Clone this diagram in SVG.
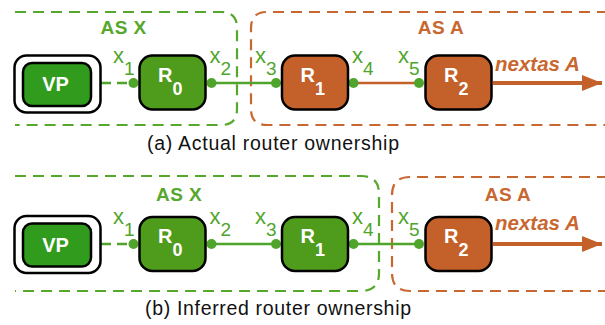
<svg xmlns="http://www.w3.org/2000/svg" width="605" height="325" viewBox="0 0 605 325">
<style>
  .asx { fill: none; stroke: #56a82c; stroke-width: 2.2; stroke-dasharray: 11 7; }
  .asa { fill: none; stroke: #c8672f; stroke-width: 2.2; stroke-dasharray: 11 7; }
  .node { stroke: #000; stroke-width: 2.5; }
  .gfill { fill: #4f9b1c; }
  .vpfill { fill: #319b1d; }
  .ofill { fill: #c4602a; }
  .ntext { font-family: "Liberation Sans", Arial, sans-serif; font-weight: bold; fill: #fff; font-size: 20px; }
  .sub { font-size: 18px; }
  .lbl { font-family: "Liberation Sans", Arial, sans-serif; fill: #4fa52b; font-size: 22px; }
  .lsub { font-size: 19px; }
  .asxl { font-family: "Liberation Sans", Arial, sans-serif; font-weight: bold; fill: #56a82c; font-size: 19px; letter-spacing: 0.4px; text-anchor: middle; }
  .asal { font-family: "Liberation Sans", Arial, sans-serif; font-weight: bold; fill: #c8672f; font-size: 19px; letter-spacing: 0.4px; text-anchor: middle; }
  .next { font-family: "Liberation Sans", Arial, sans-serif; font-weight: bold; font-style: italic; fill: #c8672f; font-size: 20.5px; }
  .cap { font-family: "Liberation Sans", Arial, sans-serif; fill: #111; font-size: 19.5px; }
  .gline { stroke: #4fa52b; stroke-width: 2.5; fill: none; }
  .oline { stroke: #c4602a; stroke-width: 2.5; fill: none; }
  .dot { fill: #4fa52b; }
  .arrow { stroke: #c4602a; stroke-width: 4; fill: none; }
</style>
<defs>
  <marker id="ah" markerUnits="userSpaceOnUse" markerWidth="22" markerHeight="16" refX="20" refY="8" orient="auto">
    <path d="M0,0 L20,8 L0,16 Z" fill="#c4602a"/>
  </marker>
</defs>

<!-- Panel (a) -->
<g id="as-x-a">
  <path class="asx" d="M15,12 H221 Q237,12 237,28 V109 Q237,125 221,125 H15"/>
  <text class="asxl" x="123.5" y="34">AS X</text>
</g>
<g id="as-a-a">
  <path class="asa" d="M608,12 H267 Q251,12 251,28 V109 Q251,125 267,125 H608"/>
  <text class="asal" x="441" y="34">AS A</text>
</g>

<g id="connectors-a">
  <line class="gline" x1="101" y1="83" x2="133" y2="83" stroke-dasharray="10 6"/>
  <line class="gline" x1="212" y1="83" x2="276" y2="83"/>
  <line class="oline" x1="354" y1="83" x2="419" y2="83"/>
  <line class="arrow" x1="493" y1="83" x2="602" y2="83" marker-end="url(#ah)"/>
  <circle class="dot" cx="133.5" cy="83" r="5"/>
  <circle class="dot" cx="211.5" cy="83" r="5"/>
  <circle class="dot" cx="276" cy="83" r="5"/>
  <circle class="dot" cx="353.5" cy="83" r="5"/>
  <circle class="dot" cx="419" cy="83" r="5"/>
</g>

<g id="vp-a">
  <rect class="node" x="14.5" y="55.5" width="86" height="57" rx="12" fill="#fff"/>
  <rect class="node vpfill" x="23" y="63" width="68" height="43" rx="9"/>
  <text class="ntext" x="55.5" y="91" text-anchor="middle">VP</text>
</g>
<g id="r0-a">
  <rect class="node gfill" x="139.5" y="55.5" width="66" height="54" rx="13"/>
  <text class="ntext" x="158" y="82">R<tspan class="sub" dy="13">0</tspan></text>
</g>
<g id="r1-a">
  <rect class="node ofill" x="282" y="55.5" width="66" height="54" rx="13"/>
  <text class="ntext" x="300.5" y="82">R<tspan class="sub" dy="13">1</tspan></text>
</g>
<g id="r2-a">
  <rect class="node ofill" x="425.5" y="55.5" width="66" height="54" rx="13"/>
  <text class="ntext" x="444" y="82">R<tspan class="sub" dy="13">2</tspan></text>
</g>

<g id="labels-a">
  <text class="lbl" x="113" y="63">x<tspan class="lsub" dy="12">1</tspan></text>
  <text class="lbl" x="209.5" y="63">x<tspan class="lsub" dy="12">2</tspan></text>
  <text class="lbl" x="255" y="63">x<tspan class="lsub" dy="12">3</tspan></text>
  <text class="lbl" x="352" y="63">x<tspan class="lsub" dy="12">4</tspan></text>
  <text class="lbl" x="398" y="63">x<tspan class="lsub" dy="12">5</tspan></text>
  <text class="next" x="495" y="70.5">nextas A</text>
  <text class="cap" x="147" y="150" textLength="252" lengthAdjust="spacing">(a) Actual router ownership</text>
</g>

<!-- Panel (b) -->
<g id="as-x-b">
  <path class="asx" d="M15,176 H361 Q379,176 379,194 V273 Q379,291 361,291 H15"/>
  <text class="asxl" x="179" y="201">AS X</text>
</g>
<g id="as-a-b">
  <path class="asa" d="M608,177 H410 Q392,177 392,195 V273 Q392,291 410,291 H608"/>
  <text class="asal" x="508" y="201">AS A</text>
</g>

<g id="connectors-b">
  <line class="gline" x1="101" y1="244" x2="133" y2="244" stroke-dasharray="10 6"/>
  <line class="gline" x1="212" y1="244" x2="276" y2="244"/>
  <line class="gline" x1="354" y1="244" x2="419" y2="244"/>
  <line class="arrow" x1="493" y1="244" x2="602" y2="244" marker-end="url(#ah)"/>
  <circle class="dot" cx="133.5" cy="244" r="5"/>
  <circle class="dot" cx="211.5" cy="244" r="5"/>
  <circle class="dot" cx="276" cy="244" r="5"/>
  <circle class="dot" cx="353.5" cy="244" r="5"/>
  <circle class="dot" cx="419" cy="244" r="5"/>
</g>

<g id="vp-b">
  <rect class="node" x="14.5" y="216" width="86" height="57" rx="12" fill="#fff"/>
  <rect class="node vpfill" x="23" y="223.5" width="68" height="43" rx="9"/>
  <text class="ntext" x="55.5" y="252" text-anchor="middle">VP</text>
</g>
<g id="r0-b">
  <rect class="node gfill" x="139.5" y="217" width="66" height="54" rx="13"/>
  <text class="ntext" x="158" y="243">R<tspan class="sub" dy="13">0</tspan></text>
</g>
<g id="r1-b">
  <rect class="node gfill" x="282" y="217" width="66" height="54" rx="13"/>
  <text class="ntext" x="300.5" y="243">R<tspan class="sub" dy="13">1</tspan></text>
</g>
<g id="r2-b">
  <rect class="node ofill" x="425.5" y="217" width="66" height="54" rx="13"/>
  <text class="ntext" x="444" y="243">R<tspan class="sub" dy="13">2</tspan></text>
</g>

<g id="labels-b">
  <text class="lbl" x="113" y="224">x<tspan class="lsub" dy="12">1</tspan></text>
  <text class="lbl" x="209.5" y="224">x<tspan class="lsub" dy="12">2</tspan></text>
  <text class="lbl" x="255" y="224">x<tspan class="lsub" dy="12">3</tspan></text>
  <text class="lbl" x="352" y="224">x<tspan class="lsub" dy="12">4</tspan></text>
  <text class="lbl" x="398" y="224">x<tspan class="lsub" dy="12">5</tspan></text>
  <text class="next" x="495" y="230">nextas A</text>
  <text class="cap" x="145" y="315" textLength="266" lengthAdjust="spacing">(b) Inferred router ownership</text>
</g>
</svg>
